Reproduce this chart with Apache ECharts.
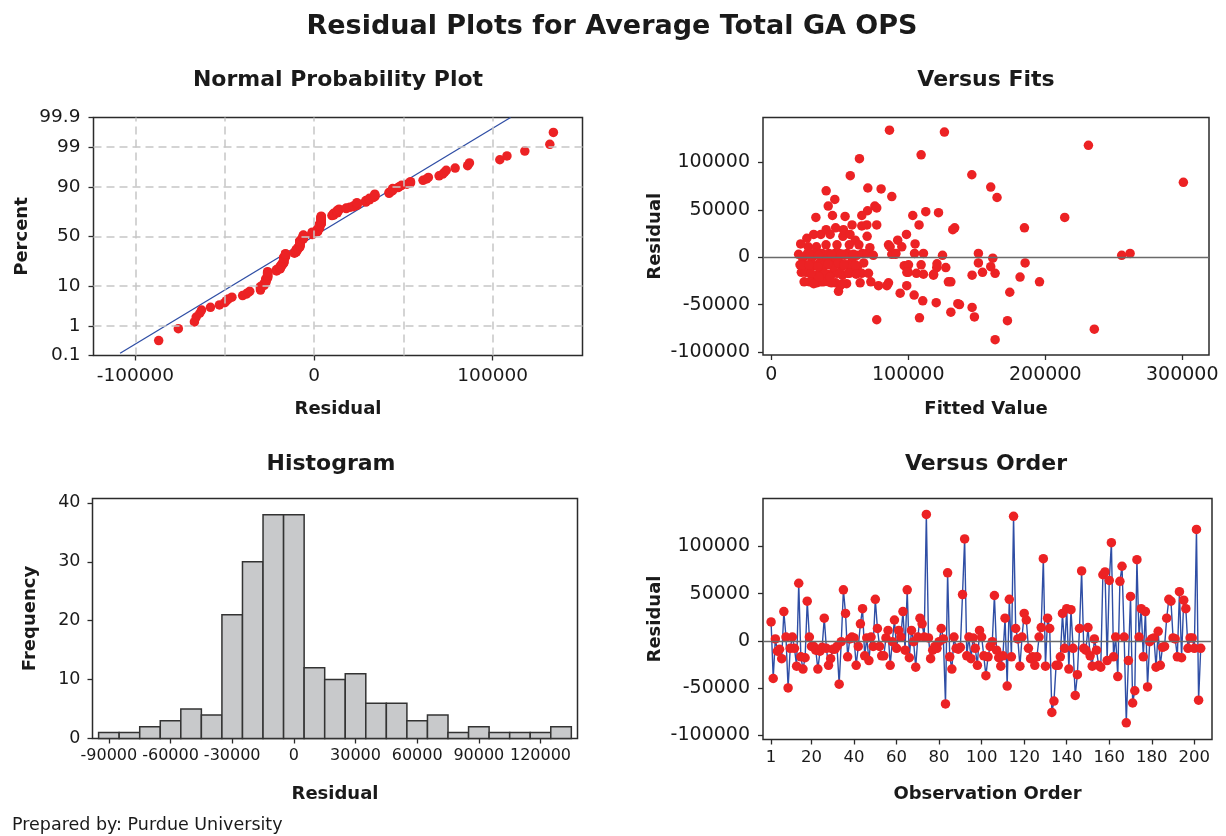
<!DOCTYPE html>
<html>
<head>
<meta charset="utf-8">
<script src="https://cdn.jsdelivr.net/npm/echarts@6/dist/echarts.min.js"></script>
<style>
html,body{margin:0;padding:0;background:#fff;}
#chart{width:1226px;height:836px;}
</style>
</head>
<body>
<div id="chart"></div>
<script>
// Residuals in observation order (1..203)
const residuals = [
  20000, -40000, 2000, -11000, -9000, -19000, 31000, 4000, -50000, -8000,
  4000, -8000, -27000, 61000, -17000, -30000, -18000, 42000, 4000, -6000,
  -6000, -10000, -30000, -11000, -7000, 24000, -8000, -26000, -19000, -9000,
  -9000, -6000, -46000, -1000, 54000, 29000, -17000, 2000, 4000, 3000,
  -26000, -6000, 18000, 34000, -16000, 3000, -21000, 4000, -6000, 44000,
  13000, -6000, -16000, -16000, 3000, 11000, -26000, -1000, 22000, -8000,
  11000, 4000, 31000, -10000, 54000, -18000, 11000, -1000, -28000, 4000,
  24000, 18000, 4000, 134000, 3000, -19000, -10000, -6000, -8000, -1000,
  13000, 2000, -67000, 72000, -17000, -30000, 4000, -8000, -9000, -7000,
  49000, 108000, -16000, 4000, -19000, 3000, -8000, -26000, 11000, 4000,
  -16000, -37000, -17000, -6000, -1000, 48000, -10000, -18000, -27000, -16000,
  24000, -48000, 44000, -17000, 132000, 13000, 2000, -27000, 4000, 29000,
  22000, -8000, -19000, -17000, -26000, -17000, 4000, 14000, 87000, -27000,
  24000, 13000, -76000, -64000, -26000, -26000, -17000, 29000, -8000, 34000,
  -30000, 33000, -8000, -58000, -36000, 13000, 74000, -8000, -10000, 14000,
  -16000, -27000, 2000, -10000, -26000, -28000, 70000, 73000, -21000, 64000,
  104000, -17000, 4000, -38000, 63000, 79000, 4000, -87000, -21000, 47000,
  -66000, -53000, 86000, 4000, 34000, -17000, 31000, -49000, -1000, 2000,
  3000, -28000, 10000, -26000, -7000, -6000, 24000, 44000, 42000, 3000,
  2000, -17000, 52000, -18000, 43000, 34000, -8000, 3000, 3000, -8000,
  118000, -63000, -8000
];
// Fitted values in observation order (1..203)
const fittedValues = [
  26000, 104300, 125000, 120800, 97100, 146600, 133900, 111100, 137400, 100200,
  104600, 109400, 85600, 46400, 163400, 78300, 111100, 32600, 151200, 185300,
  151200, 160200, 50300, 127400, 121000, 36200, 21000, 36000, 118400, 26000,
  31000, 35500, 110600, 161700, 41600, 132500, 106000, 255800, 261900, 90600,
  42000, 40000, 92300, 107900, 154200, 88000, 181600, 91000, 44500, 103300,
  85600, 50000, 100000, 99000, 20000, 86800, 131100, 23000, 52300, 54500,
  95300, 26500, 184800, 58500, 75600, 118500, 27000, 29500, 55000, 32500,
  98700, 61300, 35000, 86300, 38000, 30000, 63000, 67500, 24000, 40500,
  40000, 43500, 172400, 80200, 45000, 84400, 46500, 28500, 33000, 37500,
  70300, 109400, 27000, 49500, 52000, 52500, 42500, 28000, 33000, 55500,
  61000, 174100, 36500, 47000, 59000, 112800, 51500, 41000, 33000, 22000,
  43000, 120400, 66100, 56000, 126400, 48000, 62500, 47000, 66500, 52700,
  70000, 56500, 33500, 48000, 195800, 66000, 70000, 105000, 146400, 64900,
  31000, 57000, 235800, 108200, 129300, 38000, 39000, 40100, 61500, 77000,
  98900, 66100, 38500, 131100, 49100, 64000, 160200, 30500, 45500, 21500,
  25000, 44000, 74500, 34000, 24000, 31000, 40100, 70500, 43000, 88000,
  64400, 71000, 31500, 94100, 164800, 300800, 37000, 163400, 35000, 122100,
  77000, 146600, 57700, 42000, 69800, 57000, 47000, 136200, 47500, 53500,
  60000, 52000, 72000, 72700, 41500, 49000, 57500, 44700, 214200, 28000,
  34500, 29000, 77000, 62000, 53900, 59000, 53000, 44000, 51000, 22500,
  231500, 148300, 27500
];
// Histogram
const histMidpoints = [-90000,-80000,-70000,-60000,-50000,-40000,-30000,-20000,-10000,0,10000,20000,30000,40000,50000,60000,70000,80000,90000,100000,110000,120000,130000];
const histCounts = [1,1,2,3,5,4,21,30,38,38,12,10,11,6,6,3,4,1,2,1,1,1,2];
const histBinWidth = 10000;
const histXTicks = [-90000,-60000,-30000,0,30000,60000,90000,120000];
const histYTicks = [0,10,20,30,40];
// Normal probability plot
const probPercentTicks = [0.1, 1, 10, 50, 90, 99, 99.9];
const probPercentGrid = [1, 10, 50, 90, 99];
const probXTicks = [-100000, 0, 100000];
const probXGrid = [-100000, -50000, 0, 50000, 100000];
const probLineResidual = [-108600, 110000];
const probLinePercent = [0.122, 99.9];
// Versus fits / order ticks
const residTicks = [-100000, -50000, 0, 50000, 100000];
const fitsXTicks = [0, 100000, 200000, 300000];
const orderXTicks = [1, 20, 40, 60, 80, 100, 120, 140, 160, 180, 200];

function invNorm(p) {
  const a=[-3.969683028665376e+01,2.209460984245205e+02,-2.759285104469687e+02,1.383577518672690e+02,-3.066479806614716e+01,2.506628277459239e+00];
  const b=[-5.447609879822406e+01,1.615858368580409e+02,-1.556989798598866e+02,6.680131188771972e+01,-1.328068155288572e+01];
  const c=[-7.784894002430293e-03,-3.223964580411365e-01,-2.400758277161838e+00,-2.549732539343734e+00,4.374664141464968e+00,2.938163982698783e+00];
  const d=[7.784695709041462e-03,3.224671290700398e-01,2.445134137142996e+00,3.754408661907416e+00];
  const plow=0.02425, phigh=1-plow;
  let q,r;
  if(p<plow){q=Math.sqrt(-2*Math.log(p));return (((((c[0]*q+c[1])*q+c[2])*q+c[3])*q+c[4])*q+c[5])/((((d[0]*q+d[1])*q+d[2])*q+d[3])*q+1);}
  if(p<=phigh){q=p-0.5;r=q*q;return (((((a[0]*r+a[1])*r+a[2])*r+a[3])*r+a[4])*r+a[5])*q/(((((b[0]*r+b[1])*r+b[2])*r+b[3])*r+b[4])*r+1);}
  q=Math.sqrt(-2*Math.log(1-p));return -(((((c[0]*q+c[1])*q+c[2])*q+c[3])*q+c[4])*q+c[5])/((((d[0]*q+d[1])*q+d[2])*q+d[3])*q+1);
}

const FONT = 'DejaVu Sans';
const TXT = '#1a1a1a';
const RED = '#ec2224';
const BLUE = '#2f4ea5';
const FRAME = '#2b2b2b';
const DOT = 9.5;

const n = residuals.length;
const sorted = residuals.slice().sort((x, y) => x - y);
const probPoints = sorted.map((v, i) => [v, invNorm((i + 1 - 0.3) / (n + 0.4))]);
const probZTicks = probPercentTicks.map(p => invNorm(p / 100));
const probLine = probLineResidual.map((v, i) => [v, invNorm(probLinePercent[i] / 100)]);

function gridBox(left, top, width, height) {
  return { left, top, width, height, show: true, borderColor: FRAME, borderWidth: 1.5,
           backgroundColor: 'transparent', containLabel: false, outerBoundsMode: 'none' };
}
function valAxis(gridIndex, min, max, ticks, opts) {
  opts = opts || {};
  return {
    type: 'value', gridIndex, min, max,
    axisLine: { show: false, onZero: false },
    axisTick: { show: true, inside: false, customValues: opts.tickValues || ticks, length: 5, lineStyle: { color: FRAME, width: 1.3 } },
    axisLabel: { show: true, customValues: ticks, fontFamily: FONT, fontSize: opts.fontSize || 18, color: TXT,
                 margin: opts.margin || 11, formatter: opts.formatter || (v => String(Math.round(v))) },
    splitLine: { show: false },
    name: opts.name || '', nameLocation: 'middle', nameGap: opts.nameGap || 40,
    nameRotate: opts.nameRotate || 0,
    nameTextStyle: { fontFamily: FONT, fontSize: 18, fontWeight: 'bold', color: TXT }
  };
}
const titleStyle = { fontFamily: FONT, fontSize: 22, fontWeight: 'bold', color: TXT };

const option = {
  animation: false,
  backgroundColor: '#ffffff',
  textStyle: { fontFamily: FONT },
  title: [
    { text: 'Residual Plots for Average Total GA OPS', left: 612, top: 13, textAlign: 'center', padding: 0,
      textStyle: { fontFamily: FONT, fontSize: 27, fontWeight: 'bold', color: TXT } },
    { text: 'Normal Probability Plot', left: 338, top: 69, textAlign: 'center', padding: 0, textStyle: titleStyle },
    { text: 'Versus Fits', left: 986, top: 69, textAlign: 'center', padding: 0, textStyle: titleStyle },
    { text: 'Histogram', left: 331, top: 453, textAlign: 'center', padding: 0, textStyle: titleStyle },
    { text: 'Versus Order', left: 986, top: 453, textAlign: 'center', padding: 0, textStyle: titleStyle },
    { text: 'Prepared by: Purdue University', left: 12, top: 816, padding: 0,
      textStyle: { fontFamily: FONT, fontSize: 17.5, fontWeight: 'normal', color: TXT } }
  ],
  grid: [
    gridBox(93.5, 117.5, 489, 238),
    gridBox(763, 117.5, 446, 237.5),
    gridBox(92.5, 498.5, 485, 240),
    gridBox(763, 498.5, 449, 241)
  ],
  xAxis: [
    valAxis(0, -123500, 150300, probXTicks, { name: 'Residual', nameGap: 45, fontSize: 18.5 }),
    valAxis(1, -6000, 319500, fitsXTicks, { name: 'Fitted Value', nameGap: 45, fontSize: 19 }),
    valAxis(2, -97970, 138000, histXTicks, { name: 'Residual', nameGap: 47, fontSize: 16, margin: 9 }),
    valAxis(3, -2.8, 208.3, orderXTicks, { name: 'Observation Order', nameGap: 46, fontSize: 16.5, margin: 10 })
  ],
  yAxis: [
    valAxis(0, probZTicks[0], probZTicks[probZTicks.length - 1], probZTicks, {
      name: 'Percent', nameGap: 62, nameRotate: 90, fontSize: 18.5, margin: 13,
      formatter: v => {
        let best = 0;
        probZTicks.forEach((z, i) => { if (Math.abs(z - v) < Math.abs(probZTicks[best] - v)) best = i; });
        return String(probPercentTicks[best]);
      }
    }),
    valAxis(1, -103200, 147400, residTicks, { name: 'Residual', nameGap: 99, nameRotate: 90, fontSize: 19, margin: 13 }),
    valAxis(2, 0, 40.75, histYTicks, { name: 'Frequency', nameGap: 53, nameRotate: 90, fontSize: 17.5, margin: 12 }),
    valAxis(3, -104700, 150850, residTicks, { name: 'Residual', nameGap: 99, nameRotate: 90, fontSize: 19, margin: 13 })
  ],
  series: [
    // probability plot grid lines
    { type: 'scatter', xAxisIndex: 0, yAxisIndex: 0, data: [], z: 1, silent: true,
      markLine: { silent: true, symbol: 'none', label: { show: false }, animation: false,
        lineStyle: { type: [8, 5], color: '#c6c6c6', width: 1.5 },
        data: probXGrid.map(v => ({ xAxis: v })).concat(probPercentGrid.map(p => ({ yAxis: invNorm(p / 100) }))) } },
    { type: 'line', xAxisIndex: 0, yAxisIndex: 0, data: probLine, showSymbol: false, symbol: 'none', z: 2,
      lineStyle: { color: BLUE, width: 1.3 }, silent: true },
    { type: 'scatter', xAxisIndex: 0, yAxisIndex: 0, data: probPoints, symbolSize: DOT, z: 3,
      itemStyle: { color: RED, opacity: 1 } },
    // versus fits
    { type: 'scatter', xAxisIndex: 1, yAxisIndex: 1, data: [], z: 1, silent: true,
      markLine: { silent: true, symbol: 'none', label: { show: false }, animation: false,
        lineStyle: { type: 'solid', color: '#6a6a6a', width: 1.3 }, data: [{ yAxis: 0 }] } },
    { type: 'scatter', xAxisIndex: 1, yAxisIndex: 1, data: fittedValues.map((f, i) => [f, residuals[i]]),
      symbolSize: DOT, z: 3, itemStyle: { color: RED, opacity: 1 } },
    // histogram
    { type: 'custom', xAxisIndex: 2, yAxisIndex: 2, z: 2,
      data: histMidpoints.map((m, i) => [m, histCounts[i]]),
      renderItem: (params, api) => {
        const m = api.value(0), c = api.value(1);
        const p0 = api.coord([m - histBinWidth / 2, c]);
        const p1 = api.coord([m + histBinWidth / 2, 0]);
        return { type: 'rect', shape: { x: p0[0], y: p0[1], width: p1[0] - p0[0], height: p1[1] - p0[1] },
                 style: { fill: '#c8c9cb', stroke: '#333333', lineWidth: 1.5 } };
      } },
    // versus order
    { type: 'scatter', xAxisIndex: 3, yAxisIndex: 3, data: [], z: 1, silent: true,
      markLine: { silent: true, symbol: 'none', label: { show: false }, animation: false,
        lineStyle: { type: 'solid', color: '#6a6a6a', width: 1.3 }, data: [{ yAxis: 0 }] } },
    { type: 'line', xAxisIndex: 3, yAxisIndex: 3, data: residuals.map((r, i) => [i + 1, r]),
      symbol: 'circle', symbolSize: DOT, showAllSymbol: true, z: 3,
      lineStyle: { color: BLUE, width: 1.4 }, itemStyle: { color: RED, opacity: 1 } }
  ]
};
const chart = echarts.init(document.getElementById('chart'), null, { renderer: 'canvas' });
chart.setOption(option);
</script>
</body>
</html>
